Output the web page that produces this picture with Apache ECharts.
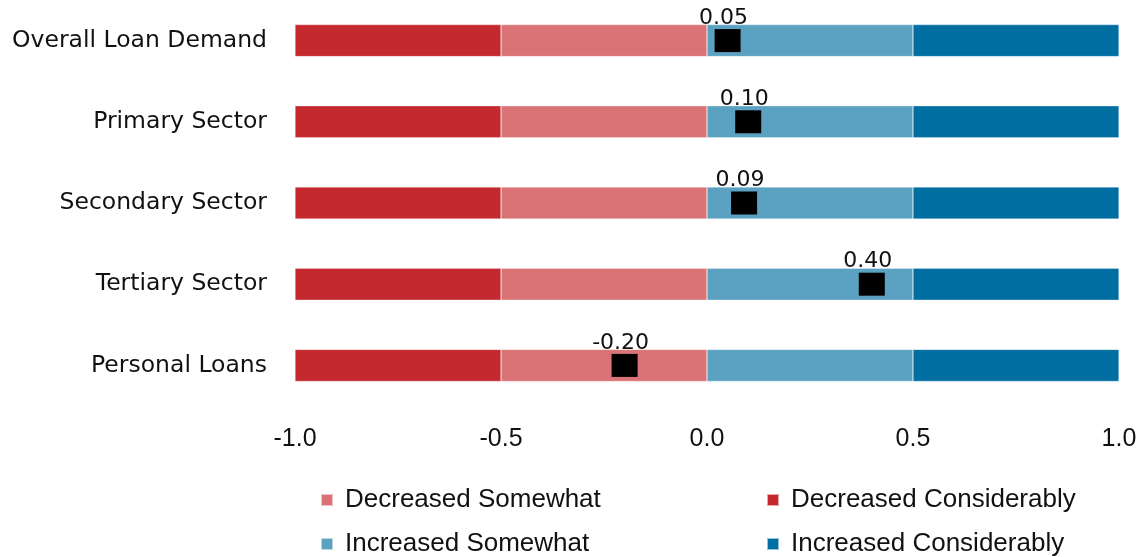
<!DOCTYPE html>
<html>
<head>
<meta charset="utf-8">
<script src="https://cdn.jsdelivr.net/npm/echarts@6/dist/echarts.min.js"></script>
<style>
  html, body { margin: 0; padding: 0; background: #fff; }
  #chart { width: 1144px; height: 557px; }
</style>
</head>
<body>
<div id="chart"></div>
<script>
// Survey categories (top to bottom)
const categories = ['Overall Loan Demand', 'Primary Sector', 'Secondary Sector', 'Tertiary Sector', 'Personal Loans'];

// Response bands: each band covers half a unit of the diffusion scale
const decreasedSomewhat = [-0.5, -0.5, -0.5, -0.5, -0.5];
const decreasedConsiderably = [-0.5, -0.5, -0.5, -0.5, -0.5];
const increasedSomewhat = [0.5, 0.5, 0.5, 0.5, 0.5];
const increasedConsiderably = [0.5, 0.5, 0.5, 0.5, 0.5];

// Net balance for each category
const netBalance = [0.05, 0.10, 0.09, 0.40, -0.20];

// Value axis ticks
const axisTicks = [-1.0, -0.5, 0.0, 0.5, 1.0];

const colors = {
  decSome: '#D97375',
  decCons: '#C4292F',
  incSome: '#5BA1C2',
  incCons: '#006EA1'
};

const tickFont = '"Liberation Sans", Arial, sans-serif';
const labelFont = '"DejaVu Sans", "Noto Sans", sans-serif';

function band(name, data, color) {
  return {
    name: name,
    type: 'bar',
    stack: 'bands',
    barWidth: 32,
    data: data,
    itemStyle: { color: color, borderColor: 'rgba(255,255,255,0.6)', borderWidth: 0.5 },
    emphasis: { disabled: true },
    silent: true
  };
}

function legendItem(name, left, top) {
  return {
    data: [name],
    left: left,
    top: top,
    padding: 0,
    itemWidth: 12,
    itemHeight: 12,
    itemGap: 0,
    icon: 'rect',
    selectedMode: false,
    textStyle: { fontFamily: tickFont, fontSize: 26, color: '#111', padding: [0, 0, 0, 7] }
  };
}

const chart = echarts.init(document.getElementById('chart'));
chart.setOption({
  animation: false,
  grid: { left: 295, right: 25, top: 0, height: 406, containLabel: false },
  xAxis: {
    type: 'value',
    min: -1,
    max: 1,
    interval: 0.5,
    axisLine: { show: false },
    axisTick: { show: false },
    splitLine: { show: false },
    axisLabel: {
      margin: 21,
      fontFamily: tickFont,
      fontSize: 25,
      color: '#111',
      formatter: v => axisTicks.includes(v) ? v.toFixed(1) : ''
    }
  },
  yAxis: {
    type: 'category',
    inverse: true,
    data: categories,
    axisLine: { show: false },
    axisTick: { show: false },
    axisLabel: {
      margin: 28,
      fontFamily: labelFont,
      fontSize: 23.5,
      color: '#111'
    }
  },
  legend: [
    legendItem('Decreased Somewhat', 320, 487),
    legendItem('Decreased Considerably', 766, 487),
    legendItem('Increased Somewhat', 320, 531),
    legendItem('Increased Considerably', 766, 531)
  ],
  series: [
    band('Decreased Somewhat', decreasedSomewhat, colors.decSome),
    band('Decreased Considerably', decreasedConsiderably, colors.decCons),
    band('Increased Somewhat', increasedSomewhat, colors.incSome),
    band('Increased Considerably', increasedConsiderably, colors.incCons),
    {
      name: 'Net balance',
      type: 'scatter',
      symbol: 'rect',
      symbolSize: [26, 23],
      data: netBalance.map((v, i) => [v, categories[i]]),
      itemStyle: { color: '#000', opacity: 1 },
      label: {
        show: true,
        position: 'top',
        distance: 0,
        offset: [-4, 0],
        fontFamily: labelFont,
        fontSize: 22,
        color: '#111',
        formatter: p => p.value[0].toFixed(2)
      },
      z: 10,
      silent: true
    }
  ]
});
</script>
</body>
</html>
